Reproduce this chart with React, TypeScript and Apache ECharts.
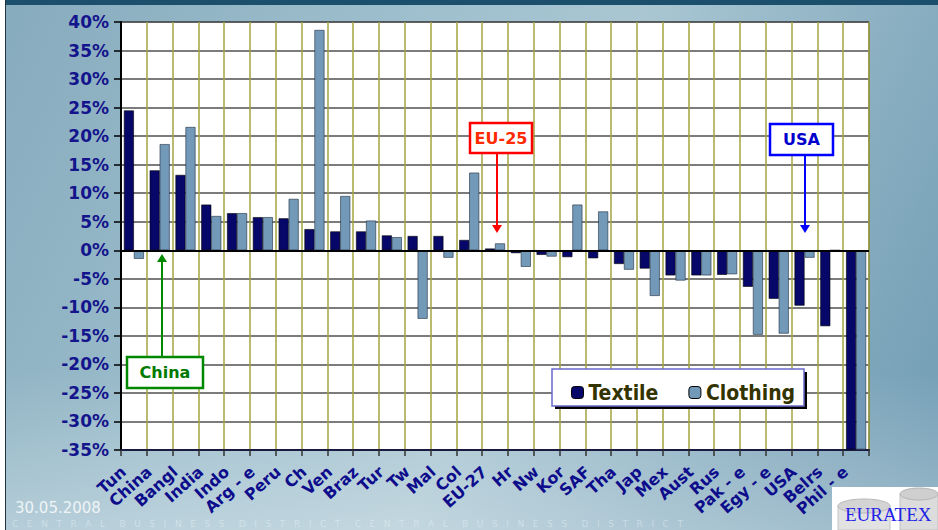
import { useEffect, useRef } from "react";
import * as echarts from "echarts";

const categories = ["Tun", "China", "Bangl", "India", "Indo", "Arg - e", "Peru", "Ch", "Ven", "Braz", "Tur", "Tw", "Mal", "Col", "EU-27", "Hr", "Nw", "Kor", "SAF", "Tha", "Jap", "Mex", "Aust", "Rus", "Pak - e", "Egy - e", "USA", "Belrs", "Phil - e"];
const textile = [24.5, 14, 13.2, 8, 6.5, 5.8, 5.6, 3.7, 3.3, 3.3, 2.6, 2.5, 2.5, 1.8, 0.3, -0.5, -0.8, -1.2, -1.4, -2.4, -3.2, -4.4, -4.4, -4.3, -6.4, -8.5, -9.7, -13.3, -34.9];
const clothing = [-1.5, 18.6, 21.6, 6, 6.5, 5.8, 9, 38.6, 9.5, 5.2, 2.3, -12, -1.3, 13.6, 1.2, -2.9, -1.1, 8, 6.8, -3.4, -8, -5.3, -4.4, -4.2, -14.8, -14.6, -1.3, 0, -34.9];
const seriesNames = ["Textile", "Clothing"];
const yMin = -35;
const yMax = 40;
const yStep = 5;
const dateLabel = "30.05.2008";
const footerText = "C   E   N   T   R   A   L     B   U   S   I   N   E   S   S     D   I   S   T   R   I   C   T     C   E   N   T   R   A   L     B   U   S   I   N   E   S   S     D   I   S   T   R   I   C   T";

const FONT = "DejaVu Sans";

export default function App() {
  const ref = useRef<HTMLDivElement>(null);
  useEffect(() => {
    const chart = echarts.init(ref.current!, null, { renderer: "svg" });
    const arrowDown = (x: number, y1: number, y2: number, color: string) => [
      { type: "line", shape: { x1: x, y1, x2: x, y2: y2 - 6 }, style: { stroke: color, lineWidth: 2 }, z: 20 },
      { type: "polygon", shape: { points: [[x - 5, y2 - 8], [x + 5, y2 - 8], [x, y2]] }, style: { fill: color }, z: 20 },
    ];
    const arrowUp = (x: number, y1: number, y2: number, color: string) => [
      { type: "line", shape: { x1: x, y1, x2: x, y2: y2 + 6 }, style: { stroke: color, lineWidth: 2 }, z: 20 },
      { type: "polygon", shape: { points: [[x - 5, y2 + 8], [x + 5, y2 + 8], [x, y2]] }, style: { fill: color }, z: 20 },
    ];
    const labelBox = (x: number, y: number, w: number, h: number, stroke: string, text: string, color: string) => [
      { type: "rect", shape: { x, y, width: w, height: h }, style: { fill: "#ffffff", stroke, lineWidth: 2.5 }, z: 20 },
      {
        type: "text", x: x + w / 2, y: y + h / 2, z: 21,
        style: { text, fill: color, font: `bold 16px "${FONT}"`, align: "center", verticalAlign: "middle" },
      },
    ];
    chart.setOption({
      animation: false,
      backgroundColor: "transparent",
      grid: { left: 121, right: 69, top: 22, bottom: 80, show: true, backgroundColor: "#ffffff", borderColor: "#222", borderWidth: 1 },
      legend: {
        data: seriesNames,
        left: 566,
        top: 377,
        itemWidth: 12,
        itemHeight: 12,
        itemGap: 30,
        z: 30,
        textStyle: { color: "#333300", fontWeight: "bold", fontSize: 21, fontFamily: `"DejaVu Sans Condensed", "${FONT}"` },
        itemStyle: { borderColor: "#000", borderWidth: 1 },
      },
      xAxis: {
        type: "category",
        data: categories,
        axisLine: { onZero: false, lineStyle: { color: "#1a1a40", width: 2 } },
        axisTick: { show: true, length: 6, lineStyle: { color: "#333", width: 1.5 } },
        splitLine: { show: true, interval: 0, lineStyle: { color: "#a3a340", width: 1.5 } },
        axisLabel: {
          interval: 0, rotate: 42, margin: 10, padding: [0, 14, 0, 0], color: "#0d0d8c", fontWeight: "bold", fontSize: 16, fontFamily: FONT,
        },
      },
      yAxis: {
        type: "value",
        min: yMin,
        max: yMax,
        interval: yStep,
        axisLine: { show: true, lineStyle: { color: "#000", width: 2 } },
        axisTick: { show: true, length: 7, lineStyle: { color: "#000", width: 1.5 } },
        splitLine: { show: true, lineStyle: { color: "#505050", width: 1.5 } },
        axisLabel: { formatter: "{value}%", margin: 12, color: "#14148c", fontWeight: "bold", fontSize: 17, fontFamily: FONT },
      },
      series: [
        {
          name: seriesNames[0],
          type: "bar",
          data: textile,
          barWidth: 10,
          barGap: "0%",
          itemStyle: { color: "#07076a", borderColor: "#000", borderWidth: 0.6 },
          z: 3,
          markLine: {
            silent: true, symbol: "none", label: { show: false },
            lineStyle: { color: "#000", width: 2, type: "solid" },
            data: [{ yAxis: 0 }],
          },
        },
        {
          name: seriesNames[1],
          type: "bar",
          data: clothing,
          barWidth: 10,
          barGap: "0%",
          itemStyle: { color: "#7399b9", borderColor: "#1e2e3e", borderWidth: 0.6 },
          z: 4,
        },
      ],
      graphic: [
        { type: "rect", shape: { x: 0, y: 0, width: 938, height: 5 }, style: { fill: "#1c4f6c" }, z: 1 },
        { type: "rect", shape: { x: 0, y: 0, width: 5, height: 530 }, style: { fill: "#ffffff" }, z: 1 },
        { type: "line", shape: { x1: 5.5, y1: 0, x2: 5.5, y2: 530 }, style: { stroke: "#1f3340", lineWidth: 1 }, z: 1 },
        {
          type: "text", x: 15, y: 508, z: 2,
          style: { text: dateLabel, fill: "#eef4f6", font: `15px "${FONT}"`, verticalAlign: "middle" },
        },
        {
          type: "text", x: 12, y: 524, z: 1,
          style: { text: footerText, fill: "rgba(235,245,250,0.45)", font: `9px "${FONT}"`, verticalAlign: "middle" },
        },
        { type: "rect", shape: { x: 555, y: 372, width: 252, height: 37 }, style: { fill: "#000" }, z: 25 },
        { type: "rect", shape: { x: 552, y: 369, width: 252, height: 37 }, style: { fill: "#ffffff", stroke: "#6a6acc", lineWidth: 1.5 }, z: 26 },
        ...labelBox(470, 123, 62, 30, "#ff0000", "EU-25", "#ff2a00"),
        ...arrowDown(497, 153, 233, "#ff0000"),
        ...labelBox(770, 124, 63, 31, "#0000ff", "USA", "#0000cc"),
        ...arrowDown(805, 155, 233, "#0000ff"),
        ...labelBox(127, 357, 76, 31, "#008800", "China", "#007a00"),
        ...arrowUp(162, 357, 254, "#008800"),
        { type: "rect", shape: { x: 832, y: 487, width: 106, height: 43 }, style: { fill: "#ffffff" }, z: 30 },
        { type: "rect", shape: { x: 838, y: 506, width: 52, height: 24 }, style: { fill: "#e2e2e2", stroke: "#c4c4c4", lineWidth: 1 }, z: 31 },
        { type: "ellipse", shape: { cx: 864, cy: 506, rx: 26, ry: 7 }, style: { fill: "#d4d4d4", stroke: "#b8b8b8", lineWidth: 1 }, z: 31 },
        { type: "rect", shape: { x: 900, y: 494, width: 38, height: 36 }, style: { fill: "#dcdcdc", stroke: "#c0c0c0", lineWidth: 1 }, z: 31 },
        { type: "ellipse", shape: { cx: 919, cy: 494, rx: 19, ry: 6 }, style: { fill: "#cfcfcf", stroke: "#b4b4b4", lineWidth: 1 }, z: 31 },
        {
          type: "text", x: 845, y: 514, z: 32,
          style: { text: "EURATEX", fill: "#2323e6", font: `19px "Liberation Serif"`, verticalAlign: "middle" },
        },
      ],
    });
    return () => chart.dispose();
  }, []);
  return (
    <div
      ref={ref}
      style={{
        position: "fixed",
        left: 0,
        top: 0,
        width: 938,
        height: 530,
        background:
          "linear-gradient(to bottom, rgba(255,255,255,0) 0%, rgba(255,255,255,0) 70%, rgba(255,255,255,0.3) 100%), linear-gradient(115deg, #86abbd 0%, #9ebfcd 35%, #a9c6d2 55%, #86acbf 80%, #6f9bb3 100%)",
      }}
    />
  );
}
